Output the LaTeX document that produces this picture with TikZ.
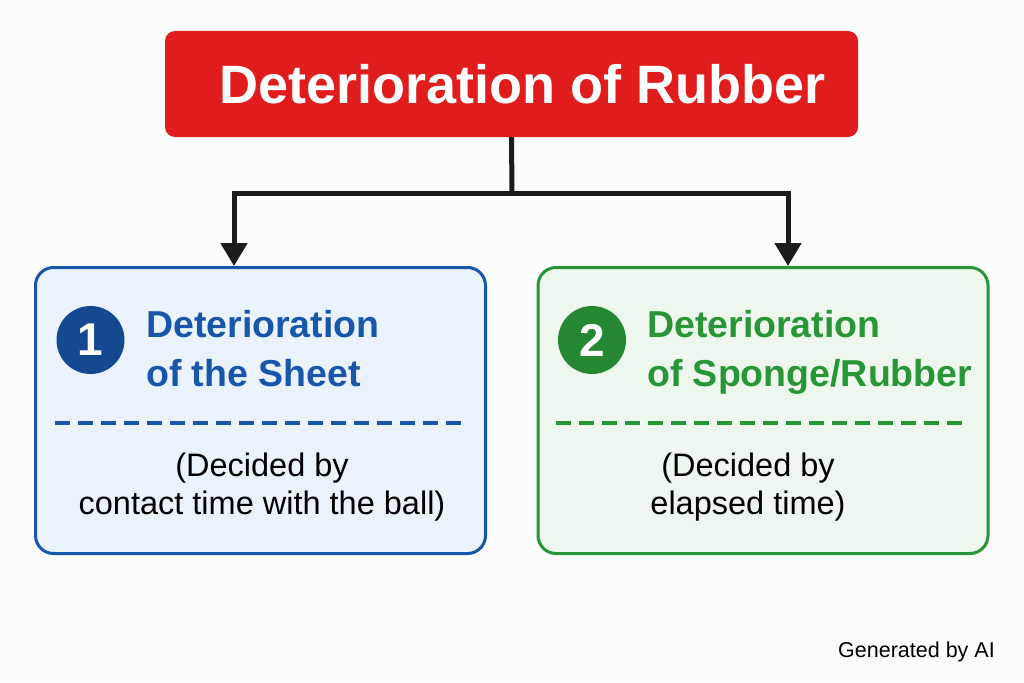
\documentclass[tikz,border=0pt]{standalone}
\usepackage{fontspec}
\setmainfont{Liberation Sans}
\usetikzlibrary{positioning, arrows.meta, calc}
\definecolor{rubberRed}{RGB}{224,28,28}
\definecolor{sheetBlue}{RGB}{24,86,172}
\definecolor{sheetFill}{RGB}{234,242,252}
\definecolor{spongeGreen}{RGB}{40,150,54}
\definecolor{spongeFill}{RGB}{238,247,238}
\definecolor{arrowInk}{RGB}{28,28,28}
\tikzset{
	topbox/.style={rectangle, fill=rubberRed, rounded corners=10pt, text=white,
		minimum width=693pt, minimum height=106pt, inner sep=0pt,
		font=\fontsize{54}{60}\selectfont\bfseries},
	groupbox/.style={rectangle, draw=#1, line width=3pt, rounded corners=18pt,
		minimum width=450pt, minimum height=286pt, inner sep=0pt},
	numdot/.style={circle, fill=#1, text=white, minimum size=68pt, inner sep=0pt,
		font=\fontsize{46}{50}\selectfont\bfseries},
	headtext/.style={text=#1, align=left, anchor=west, inner sep=0pt,
		font=\fontsize{37.5}{49}\selectfont\bfseries},
	notetext/.style={align=center, inner sep=0pt, font=\fontsize{32.5}{38}\selectfont},
	splitline/.style={draw=#1, line width=3.5pt, dash pattern=on 15pt off 8pt},
	treeline/.style={draw=arrowInk, line width=5pt},
	treearr/.style={treeline, -{Triangle[length=23pt, width=26pt]}}
}
\begin{document}
\begin{tikzpicture}[x=1pt, y=-1pt]
	\useasboundingbox (0,0) rectangle (1024,682);
	\fill[white!99!black] (0,0) rectangle (1024,682);
	% top box
	\node[topbox] (root) at (511.5,84) {\hspace{22pt}Deterioration of Rubber};
	% the two groups
	\node[groupbox=sheetBlue, fill=sheetFill] (sheet) at (260.5,410.5) {};
	\node[groupbox=spongeGreen, fill=spongeFill] (sponge) at (763,410.5) {};
	% connectors
	\coordinate (split) at (512,193);
	\coordinate (lturn) at (234,193);
	\coordinate (rturn) at (788,193);
	\draw[treeline] (root.south) -- (split);
	\draw[treearr] (split) -- (lturn) -- (lturn |- sheet.north);
	\draw[treearr] (split) -- (rturn) -- (rturn |- sponge.north);
	% group 1
	\node[numdot=sheetBlue!85!black] (num1) at (90.5,340) {1};
	\node[headtext=sheetBlue] (head1) at (146,349) {Deterioration\\of the Sheet};
	\coordinate (dash1a) at (55,423);
	\coordinate (dash1b) at (467,423);
	\draw[splitline=sheetBlue] (dash1a) -- (dash1b);
	\node[notetext] (note1) at (262,487) {(Decided by\\contact time with the ball)};
	% group 2
	\node[numdot=spongeGreen!90!black] (num2) at (592,340) {2};
	\node[headtext=spongeGreen] (head2) at (647,352) {Deterioration\\of Sponge/Rubber};
	\coordinate (dash2a) at (556,423);
	\coordinate (dash2b) at (968,423);
	\draw[splitline=spongeGreen] (dash2a) -- (dash2b);
	\node[notetext] (note2) at (748,487) {(Decided by\\elapsed time)};
	% footer
	\node[anchor=base east, inner sep=0pt, font=\fontsize{21.5}{24}\selectfont] (credit) at (995,657) {Generated by AI};
\end{tikzpicture}
\end{document}
